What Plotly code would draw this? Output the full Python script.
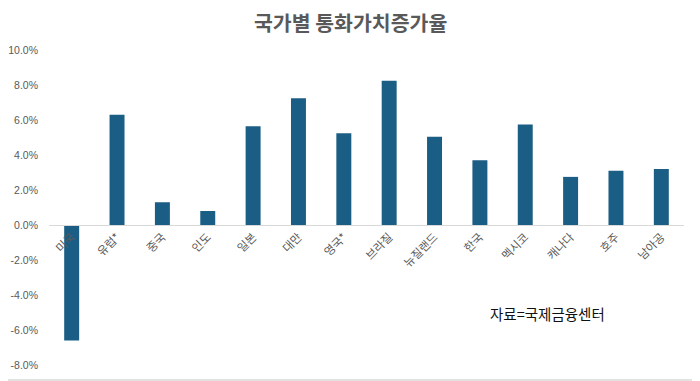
import plotly.graph_objects as go

categories = ["미국", "유럽*", "중국", "인도", "일본", "대만", "영국*", "브라질",
              "뉴질랜드", "한국", "멕시코", "캐나다", "호주", "남아공"]
values = [-6.6, 6.3, 1.3, 0.8, 5.65, 7.25, 5.25, 8.25, 5.05, 3.7, 5.75, 2.75, 3.1, 3.2]
y_ticks = [-8, -6, -4, -2, 0, 2, 4, 6, 8, 10]
y_tick_labels = [f"{v:.1f}%" for v in y_ticks]

# page offset of the figure (default body margin)
OX, OY = 8, 8
W, H = 700 - OX, 381 - OY
ML, MT = 49 - OX, 50 - OY
MR, MB = W - (684 - OX), H - (365 - OY)
pw, ph = W - ML - MR, H - MT - MB
ymin, ymax = -8, 10

fig = go.Figure(go.Bar(
    x=categories, y=values, marker_color="#1B5E85", marker_line_width=0,
))

fig.update_layout(
    width=W, height=H,
    margin=dict(l=ML, r=MR, t=MT, b=MB, autoexpand=False),
    plot_bgcolor="white", paper_bgcolor="white",
    bargap=0.67,
    showlegend=False,
    font=dict(family="Noto Sans CJK KR, Noto Sans, sans-serif", color="#595959"),
    yaxis=dict(range=[ymin, ymax], tickvals=y_ticks, ticktext=y_tick_labels,
               showgrid=False, zeroline=False, showline=False, automargin=False,
               tickfont=dict(size=10.5, color="#595959", family="Liberation Sans, Arial"),
               ticklabelstandoff=10),
    xaxis=dict(anchor="free", position=(0 - ymin) / (ymax - ymin), automargin=False,
               showline=True, linecolor="#D9D9D9", linewidth=1,
               showgrid=False, tickangle=-45, ticks="",
               tickfont=dict(size=11.5, color="#595959")),
)

fig.add_annotation(text="<b>국가별 통화가치증가율</b>", xref="paper", yref="paper",
                   x=(350 - OX - ML) / pw, y=1 + (MT - (22 - OY)) / ph,
                   xanchor="center", yanchor="middle", showarrow=False,
                   font=dict(size=20.5, color="#595959"))

fig.add_annotation(text="자료=국제금융센터", xref="paper", yref="paper",
                   x=(488 - OX - ML) / pw, y=(H - MB - (313 - OY)) / ph,
                   xanchor="left", yanchor="middle",
                   showarrow=False, font=dict(size=14.5, color="#111111"))

# frame edges (right and bottom) of the chart box
xr = 1 + (MR - 1) / pw
yb = -(MB - 1) / ph
fig.add_shape(type="line", xref="paper", yref="paper", x0=xr, x1=xr, y0=yb, y1=1 + MT / ph,
              line=dict(color="#D9D9D9", width=1.5))
fig.add_shape(type="line", xref="paper", yref="paper", x0=-ML / pw, x1=xr, y0=yb, y1=yb,
              line=dict(color="#D9D9D9", width=1.5))

fig.write_html("out.html")
